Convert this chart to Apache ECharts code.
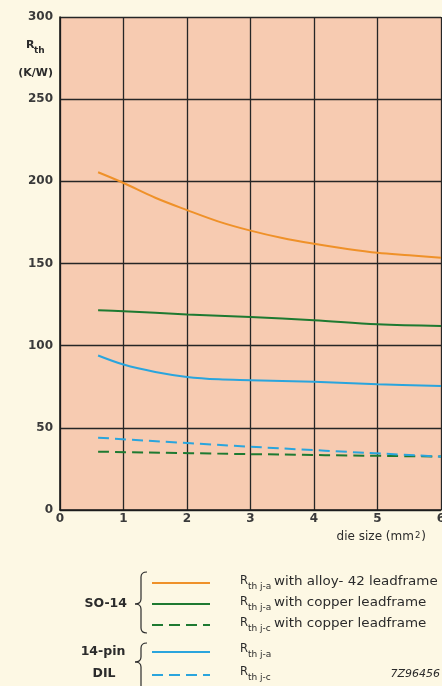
<!DOCTYPE html>
<html>
<head>
<meta charset="utf-8">
<script src="https://cdn.jsdelivr.net/npm/echarts@6/dist/echarts.min.js"></script>
<style>
  html, body { margin: 0; padding: 0; background: #fdf8e4; }
  #chart { width: 442px; height: 686px; }
</style>
</head>
<body>
<div id="chart"></div>
<script>
// Axis ticks
const xTicks = [0, 1, 2, 3, 4, 5, 6];
const yTicks = [0, 50, 100, 150, 200, 250, 300];

// SO-14, Rth j-a with alloy-42 leadframe (K/W) vs die size (mm2)
const so14AlloySize = [0.6, 1, 1.5, 2, 2.5, 3, 3.5, 4, 4.5, 5, 5.5, 6];
const so14AlloyRth  = [205.5, 199, 190, 182.5, 175.5, 170, 165.5, 162, 159, 156.5, 155, 153.5];

// SO-14, Rth j-a with copper leadframe
const so14CuSize = [0.6, 1, 2, 3, 4, 5, 6];
const so14CuRth  = [121.5, 121, 119, 117.5, 115.5, 113, 112];

// SO-14, Rth j-c with copper leadframe
const so14CuJcSize = [0.6, 3, 6];
const so14CuJcRth  = [35.5, 34, 32.5];

// 14-pin DIL, Rth j-a
const dilSize = [0.6, 1, 1.5, 2, 2.5, 3, 4, 5, 6];
const dilRth  = [94, 88.5, 84, 81, 79.5, 79, 78, 76.5, 75.5];

// 14-pin DIL, Rth j-c
const dilJcSize = [0.6, 3, 6];
const dilJcRth  = [44, 38.5, 32.5];

const COL = {
  orange: '#ef9129',
  green: '#1e7a31',
  blue: '#2aa5dd',
  ink: '#2b2b2b'
};

function pairs(xs, ys) { return xs.map((x, i) => [x, ys[i]]); }

const FONT = '"DejaVu Sans", Verdana, sans-serif';

function lineSeries(name, xs, ys, color, dashed) {
  return {
    name: name,
    type: 'line',
    data: pairs(xs, ys),
    smooth: 0.35,
    showSymbol: false,
    symbol: 'none',
    lineStyle: { color: color, width: 2, type: dashed ? [11, 6] : 'solid' },
    z: 5
  };
}

// Legend block helpers
const LX1 = 152, LX2 = 210;
function legendLine(y, color, dashed) {
  return {
    type: 'line',
    shape: { x1: LX1, y1: y, x2: LX2, y2: y },
    style: { stroke: color, lineWidth: 2, lineDash: dashed ? [11, 6] : null }
  };
}
function txt(x, y, text, size, opts) {
  opts = opts || {};
  const el = {
    type: 'text', x: x, y: y,
    style: Object.assign({
      text: text,
      font: (opts.weight ? opts.weight + ' ' : '') + size + 'px ' + FONT,
      fill: COL.ink, verticalAlign: 'middle'
    }, opts.style || {})
  };
  if (opts.scaleX) el.scaleX = opts.scaleX;
  return el;
}
function rthLabel(y, sub, tail) {
  const els = [
    txt(240, y - 1, 'R', 11.5),
    txt(248, y + 5, sub, 9)
  ];
  if (tail) els.push(txt(274, y, tail, 11.5, { scaleX: 1.17 }));
  return els;
}
function brace(xTip, xStem, xArm, yTop, yMid, yBot) {
  const s = { stroke: COL.ink, lineWidth: 1.2, fill: null };
  const r = 5;
  return [
    { type: 'bezierCurve', shape: { x1: xArm, y1: yTop, cpx1: xStem, cpy1: yTop, x2: xStem, y2: yTop + r }, style: s },
    { type: 'line', shape: { x1: xStem, y1: yTop + r, x2: xStem, y2: yMid - r }, style: s },
    { type: 'bezierCurve', shape: { x1: xStem, y1: yMid - r, cpx1: xStem, cpy1: yMid, x2: xTip, y2: yMid }, style: s },
    { type: 'bezierCurve', shape: { x1: xTip, y1: yMid, cpx1: xStem, cpy1: yMid, x2: xStem, y2: yMid + r }, style: s },
    { type: 'line', shape: { x1: xStem, y1: yMid + r, x2: xStem, y2: yBot - r }, style: s },
    { type: 'bezierCurve', shape: { x1: xStem, y1: yBot - r, cpx1: xStem, cpy1: yBot, x2: xArm, y2: yBot }, style: s }
  ];
}

const rows = [583, 604, 625, 652, 675];

const graphics = [].concat(
  [
    // y-axis title
    txt(26, 45, 'R', 11, { weight: 'bold' }),
    txt(34, 51, 'th', 9, { weight: 'bold' }),
    txt(53, 73, '(K/W)', 11, { weight: 'bold', style: { align: 'right' } }),
    // x-axis title
    { type: 'text', x: 426, y: 537, style: {
        text: 'die size (mm{sup|2})', font: '12px ' + FONT, fill: COL.ink,
        align: 'right', verticalAlign: 'middle',
        rich: { sup: { fontSize: 8.5, fontFamily: FONT, fill: COL.ink, verticalAlign: 'top', lineHeight: 9, padding: [0, 1, 5, 1] } }
      } },
    // group labels
    txt(127, 604, 'SO-14', 12.5, { weight: 'bold', style: { align: 'right' } }),
    txt(103, 652, '14-pin', 12.5, { weight: 'bold', style: { align: 'center' } }),
    txt(104, 674, 'DIL', 12.5, { weight: 'bold', style: { align: 'center' } }),
    txt(440, 674, '7Z96456', 11, { weight: 'italic', style: { align: 'right' } })
  ],
  brace(135, 141, 147, 572, 604, 633),
  brace(135, 141, 147, 643, 662, 692),
  [
    legendLine(rows[0], COL.orange, false),
    legendLine(rows[1], COL.green, false),
    legendLine(rows[2], COL.green, true),
    legendLine(rows[3], COL.blue, false),
    legendLine(rows[4], COL.blue, true)
  ],
  rthLabel(rows[0] - 1, 'th j-a', 'with alloy- 42 leadframe'),
  rthLabel(rows[1] - 1, 'th j-a', 'with copper leadframe'),
  rthLabel(rows[2] - 1, 'th j-c', 'with copper leadframe'),
  rthLabel(rows[3] - 2, 'th j-a', ''),
  rthLabel(rows[4] - 2, 'th j-c', '')
);

const chart = echarts.init(document.getElementById('chart'), null, { renderer: 'canvas' });
chart.setOption({
  backgroundColor: '#fdf8e4',
  animation: false,
  grid: {
    left: 60, right: 1, top: 17, bottom: 176,
    containLabel: false, outerBoundsMode: 'none',
    show: true, backgroundColor: '#f7cbb1', borderWidth: 0
  },
  xAxis: {
    type: 'value',
    min: xTicks[0], max: xTicks[xTicks.length - 1], interval: 1,
    axisLine: { show: true, lineStyle: { color: '#1a1a1a', width: 1.6 } },
    axisTick: { show: false },
    splitLine: { show: true, lineStyle: { color: '#262626', width: 1.3 } },
    axisLabel: {
      color: '#3a3a3a', fontFamily: FONT, fontWeight: 'bold', fontSize: 12, margin: 3,
      formatter: v => xTicks.includes(v) ? String(v) : ''
    }
  },
  yAxis: {
    type: 'value',
    min: yTicks[0], max: yTicks[yTicks.length - 1], interval: 50,
    axisLine: { show: true, lineStyle: { color: '#1a1a1a', width: 1.6 } },
    axisTick: { show: false },
    splitLine: { show: true, lineStyle: { color: '#262626', width: 1.3 } },
    axisLabel: {
      color: '#3a3a3a', fontFamily: FONT, fontWeight: 'bold', fontSize: 12, margin: 7,
      formatter: v => yTicks.includes(v) ? String(v) : ''
    }
  },
  series: [
    lineSeries('SO-14 Rth j-a alloy-42', so14AlloySize, so14AlloyRth, COL.orange, false),
    lineSeries('SO-14 Rth j-a copper', so14CuSize, so14CuRth, COL.green, false),
    lineSeries('SO-14 Rth j-c copper', so14CuJcSize, so14CuJcRth, COL.green, true),
    lineSeries('DIL Rth j-a', dilSize, dilRth, COL.blue, false),
    lineSeries('DIL Rth j-c', dilJcSize, dilJcRth, COL.blue, true)
  ],
  graphic: { elements: graphics }
});
</script>
</body>
</html>
